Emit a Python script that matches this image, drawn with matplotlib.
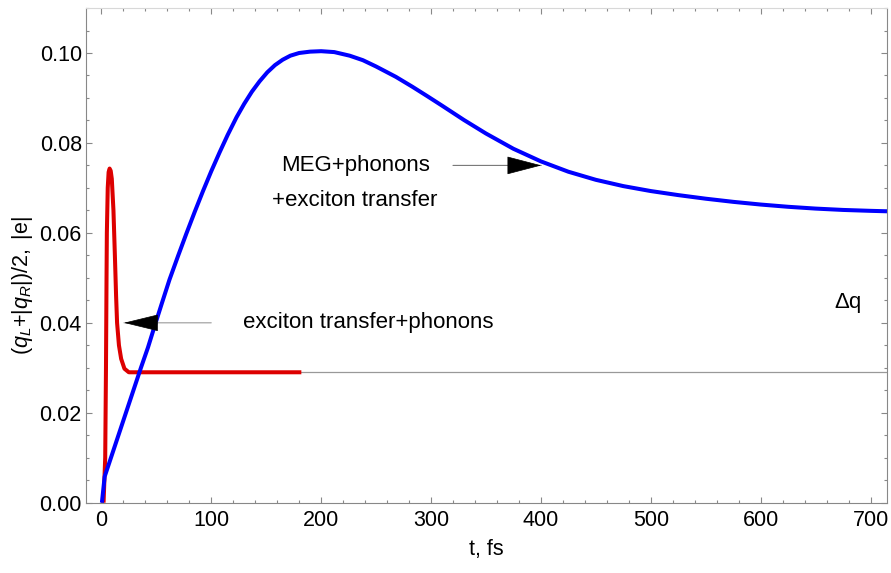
import matplotlib
matplotlib.use('Agg')
import matplotlib.pyplot as plt

plt.rcParams['font.family'] = ['Liberation Sans', 'DejaVu Sans']
plt.rcParams['mathtext.fontset'] = 'custom'
plt.rcParams['mathtext.rm'] = 'Liberation Sans'
plt.rcParams['mathtext.it'] = 'Liberation Sans:italic'

# MEG + phonons + exciton transfer (blue)
t_blue = [0.5, 2, 3, 6, 12, 18, 24, 30, 36, 42.4, 48.5, 55, 62, 70, 77.3, 85,
          92.5, 100, 107.6, 115, 123, 130, 137, 144, 151, 158, 165, 172, 180,
          190, 200, 212, 226, 238, 250, 268, 283, 296, 310, 330, 350, 375, 400,
          425, 450, 475, 500, 525, 550, 575, 600, 625, 650, 675, 700, 715]
q_blue = [0.0, 0.0035, 0.0058, 0.008, 0.0124, 0.0168, 0.0212, 0.0256, 0.0300,
          0.0345, 0.0393, 0.0443, 0.0496, 0.0550, 0.0598, 0.0647, 0.0693, 0.0737,
          0.0779, 0.0818, 0.0857, 0.0887, 0.0914, 0.0937, 0.0957, 0.0973, 0.0985,
          0.0994, 0.1000, 0.1003, 0.1004, 0.1002, 0.0994, 0.0984, 0.0970, 0.0947,
          0.0925, 0.0905, 0.0883, 0.0851, 0.0821, 0.0787, 0.0759, 0.0736, 0.0718,
          0.0704, 0.0693, 0.0684, 0.0676, 0.0669, 0.0663, 0.0658, 0.0654, 0.0651,
          0.0649, 0.0648]

# exciton transfer + phonons (red)
t_red = [2, 3.5, 4.2, 4.7, 5.0, 5.8, 6.6, 7.5, 8.5, 9.5, 11, 12.3, 13.4, 14.3,
         16, 18, 21, 25, 182]
q_red = [0.0, 0.01, 0.03, 0.05, 0.06, 0.07, 0.0735, 0.0743, 0.0738, 0.072, 0.065,
         0.055, 0.046, 0.040, 0.035, 0.032, 0.0298, 0.029, 0.029]

# reference level for delta q
dq_level = 0.029
dq_t = [150, 720]

fig = plt.figure(figsize=(8.91, 5.73), dpi=100)
ax = fig.add_axes([0.0965, 0.1227, 0.899, 0.8633])

ax.plot(dq_t, [dq_level, dq_level], color='#999999', lw=0.9, zorder=1)
ax.plot(t_blue, q_blue, color='#0000ff', lw=2.9, solid_capstyle='butt',
        solid_joinstyle='round', zorder=3)
ax.plot(t_red, q_red, color='#dd0000', lw=2.9, solid_capstyle='butt',
        solid_joinstyle='round', zorder=2)

ax.set_xlim(-14, 715)
ax.set_ylim(0, 0.11)
ax.set_xticks([0, 100, 200, 300, 400, 500, 600, 700])
ax.set_xticks(range(0, 720, 20), minor=True)
ax.set_yticks([0.0, 0.02, 0.04, 0.06, 0.08, 0.10])
ax.set_yticks([i * 0.005 for i in range(23)], minor=True)
ax.set_yticklabels(['0.00', '0.02', '0.04', '0.06', '0.08', '0.10'])

ax.tick_params(which='both', direction='in', top=True, right=True,
               color='#888888', labelsize=15.5, width=0.8)
ax.tick_params(which='major', length=4)
ax.tick_params(which='minor', length=2.4)
ax.tick_params(axis='y', pad=3)
ax.tick_params(axis='x', pad=5)
for s in ['left', 'bottom', 'right']:
    ax.spines[s].set_color('#888888')
    ax.spines[s].set_linewidth(0.8)
ax.spines['top'].set_color('#d8d8d8')
ax.spines['top'].set_linewidth(0.8)

ax.set_xlabel('t, fs', fontsize=15.5, labelpad=6)
ax.set_ylabel(r'$\mathrm{(}q_{L}\mathrm{+|}q_{R}\mathrm{|)/2,\ |e|}$', fontsize=15.5)
ax.yaxis.set_label_coords(-0.064, 0.44)

# annotations
ax.text(231, 0.075, 'MEG+phonons', fontsize=16, ha='center', va='center')
ax.text(231, 0.0672, '+exciton transfer', fontsize=16, ha='center', va='center')
ax.annotate('', xy=(400.3, 0.075), xytext=(320, 0.075),
            arrowprops=dict(arrowstyle='-', color='#777777', lw=0.8,
                            shrinkA=0, shrinkB=0))
ax.annotate('', xy=(400.3, 0.075), xytext=(371, 0.075),
            arrowprops=dict(arrowstyle='-|>,head_length=1.15,head_width=0.3',
                            mutation_scale=20, color='black', lw=0.5,
                            shrinkA=0, shrinkB=0), zorder=4)

ax.text(242.5, 0.04, 'exciton transfer+phonons', fontsize=16, ha='center', va='center')
ax.annotate('', xy=(20.6, 0.04), xytext=(100, 0.04),
            arrowprops=dict(arrowstyle='-', color='#999999', lw=0.8,
                            shrinkA=0, shrinkB=0))
ax.annotate('', xy=(20.6, 0.04), xytext=(50, 0.04),
            arrowprops=dict(arrowstyle='-|>,head_length=1.15,head_width=0.28',
                            mutation_scale=20, color='black', lw=0.5,
                            shrinkA=0, shrinkB=0), zorder=4)

ax.text(679, 0.0444, r'$\Delta$q', fontsize=16, ha='center', va='center')

fig.savefig('out.png', dpi=100)
